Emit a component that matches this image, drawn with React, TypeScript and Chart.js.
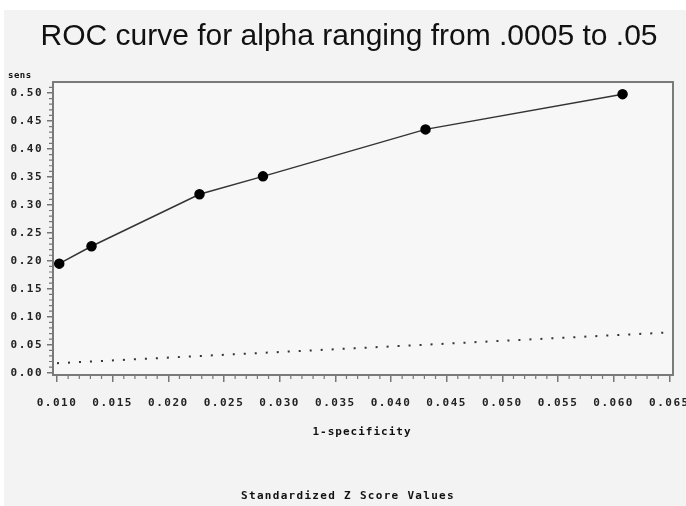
import React, { useEffect, useRef } from "react";
import { Chart, registerables } from "chart.js";

Chart.register(...registerables);

// ROC curve points
const fpr = [0.0102, 0.0131, 0.0228, 0.0285, 0.0431, 0.0608];
const sens = [0.195, 0.226, 0.319, 0.351, 0.435, 0.498];

// dotted reference line
const refX = [0.01, 0.065];
const refY = [0.017, 0.072];

const xTicks = [0.01, 0.015, 0.02, 0.025, 0.03, 0.035, 0.04, 0.045, 0.05, 0.055, 0.06, 0.065];
const yTicks = [0, 0.05, 0.1, 0.15, 0.2, 0.25, 0.3, 0.35, 0.4, 0.45, 0.5];

const titleText = "ROC curve for alpha ranging from .0005 to .05";
const xTitle = "1-specificity";
const yTitle = "sens";
const footnote = "Standardized Z Score Values";

const MONO = "'DejaVu Sans Mono', monospace";

const decor = {
  id: "decor",
  beforeDraw(chart: any) {
    const ctx = chart.ctx;
    ctx.save();
    ctx.fillStyle = "#ffffff";
    ctx.fillRect(0, 0, chart.width, chart.height);
    ctx.fillStyle = "#f3f3f3";
    ctx.fillRect(4, 10, chart.width - 4, chart.height - 10);
    const a = chart.chartArea;
    ctx.fillStyle = "#f7f7f7";
    ctx.fillRect(a.left, a.top, a.right - a.left, a.bottom - a.top);
    ctx.restore();
    ctx.letterSpacing = "1.5px";
  },
  afterDraw(chart: any) {
    const ctx = chart.ctx;
    const a = chart.chartArea;
    const xs = chart.scales.x;
    const ys = chart.scales.y;
    ctx.save();
    // frame
    ctx.strokeStyle = "#7a7a7a";
    ctx.lineWidth = 2;
    ctx.strokeRect(a.left, a.top, a.right - a.left, a.bottom - a.top);
    // minor ticks
    ctx.lineWidth = 1.2;
    ctx.strokeStyle = "#777";
    ctx.beginPath();
    for (let i = 10; i <= 65; i++) {
      if (i % 5 === 0) continue;
      const px = xs.getPixelForValue(i / 1000);
      ctx.moveTo(px, a.bottom);
      ctx.lineTo(px, a.bottom + 4);
    }
    for (let i = 0; i <= 51; i++) {
      if (i % 5 === 0) continue;
      const py = ys.getPixelForValue(i / 100);
      ctx.moveTo(a.left, py);
      ctx.lineTo(a.left - 4, py);
    }
    ctx.stroke();
    // texts
    ctx.letterSpacing = "0px";
    ctx.fillStyle = "#111";
    ctx.textAlign = "center";
    ctx.textBaseline = "middle";
    ctx.font = "30px 'Liberation Sans', Arial, sans-serif";
    ctx.fillText(titleText, 349, 37);
    ctx.letterSpacing = "1px";
    ctx.font = "bold 11px " + MONO;
    ctx.fillText(xTitle, 362, 432);
    ctx.letterSpacing = "1.3px";
    ctx.font = "bold 11px " + MONO;
    ctx.fillText(footnote, 348, 496);
    ctx.letterSpacing = "0.5px";
    ctx.font = "bold 9px " + MONO;
    ctx.textAlign = "left";
    ctx.fillText(yTitle, 8, 76);
    ctx.restore();
  },
};

export default function App() {
  const ref = useRef<HTMLCanvasElement | null>(null);
  useEffect(() => {
    document.body.style.margin = "0";
    const canvas = ref.current!;
    const chart = new Chart(canvas, {
      type: "scatter",
      data: {
        datasets: [
          {
            label: "ROC",
            data: fpr.map((x, i) => ({ x, y: sens[i] })),
            showLine: true,
            borderColor: "#333",
            borderWidth: 1.5,
            pointRadius: 4.5,
            pointBackgroundColor: "#000",
            pointBorderColor: "#000",
          },
          {
            label: "ref",
            data: refX.map((x, i) => ({ x, y: refY[i] })),
            showLine: true,
            borderColor: "#333",
            borderWidth: 2,
            borderDash: [2, 9],
            pointRadius: 0,
          },
        ],
      },
      options: {
        responsive: false,
        animation: false,
        layout: { padding: { left: 0, top: 82, right: 13, bottom: 0 } },
        plugins: { legend: { display: false }, tooltip: { enabled: false }, title: { display: false } },
        scales: {
          x: {
            type: "linear",
            min: 0.00964,
            max: 0.06533,
            afterBuildTicks: (s: any) => {
              s.ticks = xTicks.map((v) => ({ value: v }));
            },
            afterFit: (s: any) => {
              s.height = 131;
              s.paddingLeft = 0;
              s.paddingRight = 0;
            },
            border: { display: false },
            grid: { display: true, drawOnChartArea: false, drawTicks: true, tickLength: 7, color: "#777", lineWidth: 1.5 },
            ticks: {
              autoSkip: false,
              maxRotation: 0,
              padding: 15,
              color: "#222",
              font: { family: MONO, weight: "bold", size: 11 },
              callback: (v: any) => Number(v).toFixed(3),
            },
          },
          y: {
            type: "linear",
            min: -0.0041,
            max: 0.5197,
            afterBuildTicks: (s: any) => {
              s.ticks = yTicks.map((v) => ({ value: v }));
            },
            afterFit: (s: any) => {
              s.width = 53;
              s.paddingTop = 0;
              s.paddingBottom = 0;
            },
            border: { display: false },
            grid: { display: true, drawOnChartArea: false, drawTicks: true, tickLength: 6, color: "#777", lineWidth: 1.5 },
            ticks: {
              autoSkip: false,
              padding: 4,
              color: "#222",
              font: { family: MONO, weight: "bold", size: 11 },
              callback: (v: any) => Number(v).toFixed(2),
            },
          },
        },
      },
      plugins: [decor],
    });
    return () => chart.destroy();
  }, []);
  return <canvas ref={ref} width={686} height={506} style={{ display: "block" }} />;
}
